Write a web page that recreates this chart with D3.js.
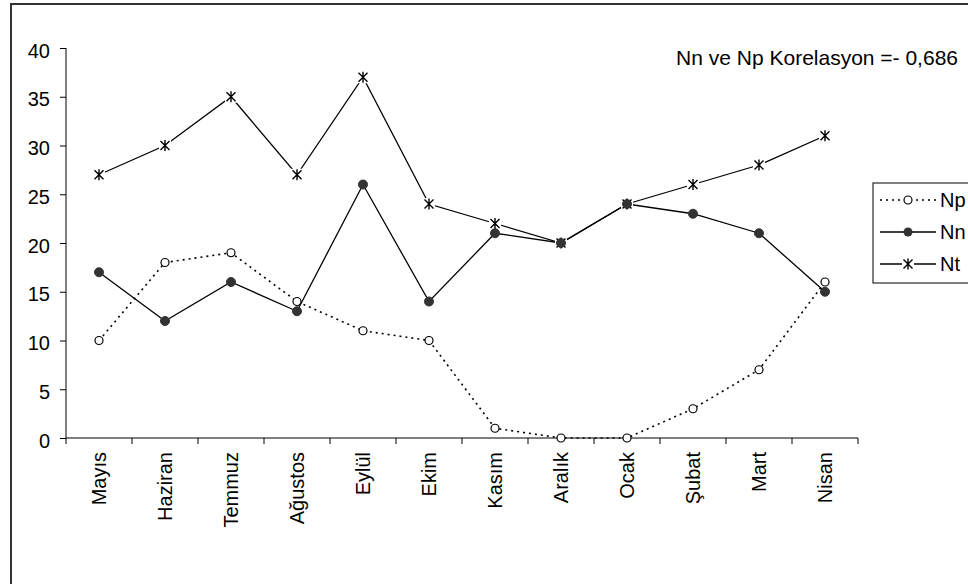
<!DOCTYPE html>
<html>
<head>
<meta charset="utf-8">
<script src="https://cdn.jsdelivr.net/npm/d3@7"></script>
<style>
  body { margin: 0; background: #fff; }
  svg { font-family: "Liberation Sans", Arial, sans-serif; }
</style>
</head>
<body>
<div id="chart"></div>
<script>
const months = ["Mayıs", "Haziran", "Temmuz", "Ağustos", "Eylül", "Ekim", "Kasım", "Aralık", "Ocak", "Şubat", "Mart", "Nisan"];
const np = [10, 18, 19, 14, 11, 10, 1, 0, 0, 3, 7, 16];
const nn = [17, 12, 16, 13, 26, 14, 21, 20, 24, 23, 21, 15];
const nt = [27, 30, 35, 27, 37, 24, 22, 20, 24, 26, 28, 31];
const yTicks = [0, 5, 10, 15, 20, 25, 30, 35, 40];
const note = "Nn ve Np Korelasyon =- 0,686";

const W = 968, H = 584;
const FS = 20;
const svg = d3.select("#chart").append("svg").attr("width", W).attr("height", H);

// outer frame (clipped on right and bottom)
svg.append("rect").attr("x", 11).attr("y", 4).attr("width", 1000).attr("height", 700)
  .attr("fill", "none").attr("stroke", "#333").attr("stroke-width", 2);

const x = d3.scaleBand().domain(months).range([66, 858]);
const y = d3.scaleLinear().domain([0, 40]).range([438, 48]);

const yAxis = svg.append("g").attr("transform", "translate(66,0)")
  .call(d3.axisLeft(y).tickValues(yTicks).tickSize(6).tickPadding(10));
yAxis.select(".domain").attr("d", "M0," + y(0) + "V" + y(40));
yAxis.selectAll("text").attr("font-size", FS).attr("fill", "#000")
  .attr("font-family", "Liberation Sans, Arial, sans-serif").attr("dy", "0.45em");

const xAxis = svg.append("g").attr("transform", "translate(0,438)")
  .call(d3.axisBottom(x).tickSize(0).tickFormat(""));
xAxis.select(".domain").attr("d", "M66,0H858");
// boundary ticks between categories
svg.append("g").selectAll("line")
  .data(d3.range(months.length + 1))
  .join("line")
  .attr("x1", i => 66 + i * x.bandwidth()).attr("x2", i => 66 + i * x.bandwidth())
  .attr("y1", 438).attr("y2", 444)
  .attr("stroke", "#000");

svg.append("g").selectAll("text")
  .data(months)
  .join("text")
  .attr("transform", d => `translate(${x(d) + x.bandwidth() / 2 + 7},452) rotate(-90)`)
  .attr("text-anchor", "end")
  .attr("font-size", FS)
  .text(d => d);

const cx = (d, i) => x(months[i]) + x.bandwidth() / 2;
const line = d3.line().x(cx).y(d => y(d));

// Nt
svg.append("path").datum(nt).attr("d", line)
  .attr("fill", "none").attr("stroke", "#000").attr("stroke-width", 1.3);
// Nn
svg.append("path").datum(nn).attr("d", line)
  .attr("fill", "none").attr("stroke", "#000").attr("stroke-width", 1.3);
// Np
svg.append("path").datum(np).attr("d", line)
  .attr("fill", "none").attr("stroke", "#000").attr("stroke-width", 1.6)
  .attr("stroke-dasharray", "2,4");

function star(g, px, py) {
  const s = 4.5;
  g.append("rect").attr("x", px - 6).attr("y", py - 6).attr("width", 12).attr("height", 12).attr("fill", "#fff");
  g.append("path")
    .attr("d", `M${px},${py - s - 1}V${py + s + 1}M${px - s},${py - s}L${px + s},${py + s}M${px - s},${py + s}L${px + s},${py - s}`)
    .attr("stroke", "#000").attr("stroke-width", 1.4).attr("fill", "none");
}

const gt = svg.append("g");
nt.forEach((d, i) => star(gt, cx(d, i), y(d)));

svg.append("g").selectAll("circle").data(nn).join("circle")
  .attr("cx", cx).attr("cy", d => y(d)).attr("r", 4.5)
  .attr("fill", "#333").attr("stroke", "#333");

svg.append("g").selectAll("circle").data(np).join("circle")
  .attr("cx", cx).attr("cy", d => y(d)).attr("r", 4)
  .attr("fill", "#fff").attr("stroke", "#000").attr("stroke-width", 1.2);

// annotation
svg.append("text").attr("x", 958).attr("y", 65).attr("text-anchor", "end")
  .attr("font-size", 21).text(note);

// legend
const lg = svg.append("g");
lg.append("rect").attr("x", 873).attr("y", 183).attr("width", 120).attr("height", 100)
  .attr("fill", "#fff").attr("stroke", "#000").attr("stroke-width", 1);
const items = [["Np", 200], ["Nn", 232], ["Nt", 264]];
items.forEach(([name, ly], k) => {
  const ln = lg.append("line").attr("x1", 880).attr("x2", 936).attr("y1", ly).attr("y2", ly)
    .attr("stroke", "#000").attr("stroke-width", k === 0 ? 1.6 : 1.3);
  if (k === 0) ln.attr("stroke-dasharray", "2,4");
  if (k === 0) lg.append("circle").attr("cx", 908).attr("cy", ly).attr("r", 4)
    .attr("fill", "#fff").attr("stroke", "#000").attr("stroke-width", 1.2);
  if (k === 1) lg.append("circle").attr("cx", 908).attr("cy", ly).attr("r", 4.5).attr("fill", "#333");
  if (k === 2) star(lg, 908, ly);
  lg.append("text").attr("x", 940).attr("y", ly + 7).attr("font-size", FS).text(name);
});
</script>
</body>
</html>
